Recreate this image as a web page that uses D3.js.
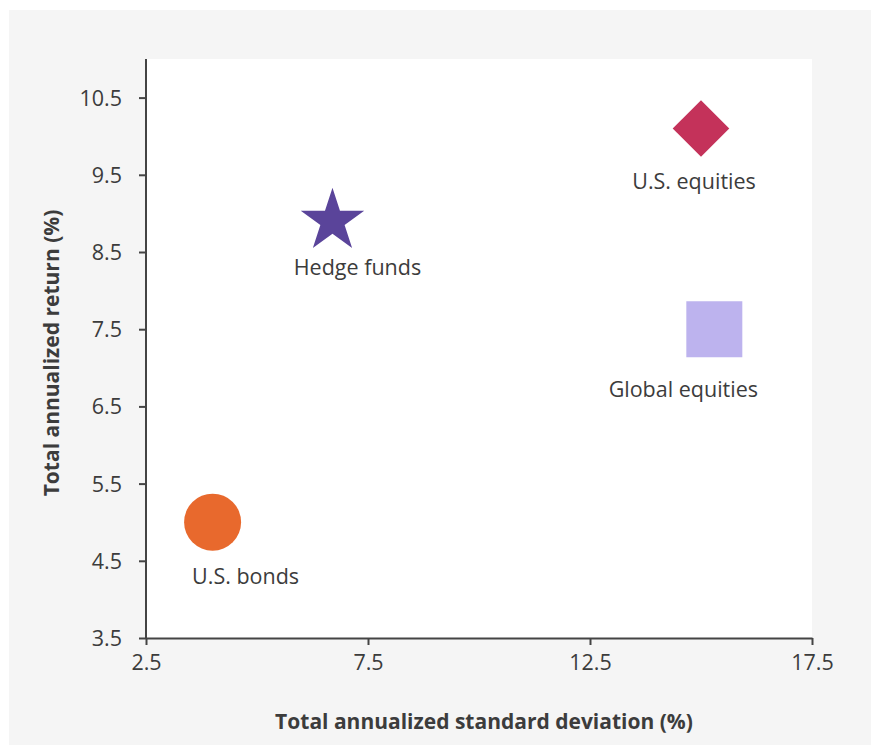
<!DOCTYPE html>
<html><head><meta charset="utf-8">
<script src="https://cdn.jsdelivr.net/npm/d3@7"></script>
<style>
html,body{margin:0;padding:0;background:#fff;}
svg{display:block;}
</style></head>
<body>
<script>
const assets = ["U.S. bonds", "Hedge funds", "U.S. equities", "Global equities"];
const stdDev = [4.0, 6.7, 15.0, 15.3];
const returns = [5.0, 8.9, 10.1, 7.5];
const shapes = ["circle", "star", "diamond", "square"];
const colors = ["#e8692d", "#5a449a", "#c4325a", "#bdb3ee"];
const xTicks = [2.5, 7.5, 12.5, 17.5];
const yTicks = [3.5, 4.5, 5.5, 6.5, 7.5, 8.5, 9.5, 10.5];
const xTitle = "Total annualized standard deviation (%)";
const yTitle = "Total annualized return (%)";

const W = 871, H = 746;
const svg = d3.select("body").append("svg").attr("width", W).attr("height", H);
svg.append("rect").attr("x", 9).attr("y", 10).attr("width", W - 9).attr("height", 735).attr("fill", "#f5f5f5");

const x = d3.scaleLinear().domain([2.5, 17.5]).range([146, 812]);
const y = d3.scaleLinear().domain([3.5, 11]).range([638, 59]);

svg.append("rect").attr("x", x(2.5)).attr("y", y(11)).attr("width", x(17.5) - x(2.5)).attr("height", y(3.5) - y(11)).attr("fill", "#fff");

const font = "'Open Sans', 'Noto Sans', sans-serif";
const axisColor = "#444";

const gx = svg.append("g").attr("transform", `translate(0,${y(3.5)})`)
  .call(d3.axisBottom(x).tickValues(xTicks).tickFormat(d3.format(".1f")).tickSize(7).tickSizeOuter(0));
const gy = svg.append("g").attr("transform", `translate(${x(2.5)},0)`)
  .call(d3.axisLeft(y).tickValues(yTicks).tickFormat(d3.format(".1f")).tickSize(7).tickSizeOuter(0));
[gx, gy].forEach(g => {
  g.select(".domain").attr("stroke", axisColor).attr("stroke-width", 2);
  g.selectAll(".tick line").attr("stroke", axisColor).attr("stroke-width", 2);
  g.selectAll(".tick text").attr("fill", "#3c3c3c").attr("font-family", font).attr("font-size", 21.5);
});
gx.selectAll(".tick text").attr("dy", "1.0em");
gy.selectAll(".tick text").attr("x", -24).attr("dy", "0.35em");
gy.select(".domain").attr("d", `M0,${y(3.5)}V${y(11)}`);

svg.append("text").attr("x", 484).attr("y", 729)
  .attr("text-anchor", "middle").attr("font-family", font).attr("font-weight", "bold")
  .attr("font-size", 21).attr("fill", "#3c3c3c").text(xTitle);
svg.append("text").attr("transform", `translate(59,353) rotate(-90)`)
  .attr("text-anchor", "middle").attr("font-family", font).attr("font-weight", "bold")
  .attr("font-size", 21).attr("fill", "#3c3c3c").text(yTitle);

const sym = {
  circle: d3.symbol().type(d3.symbolCircle).size(Math.PI * 28.5 * 28.5),
  star: d3.symbol().type(d3.symbolStar).size(1250),
  diamond: d3.symbol().type(d3.symbolSquare).size(40 * 40),
  square: d3.symbol().type(d3.symbolSquare).size(56 * 56)
};
const labelOffset = {circle: [33, 62], star: [25, 54], diamond: [-7, 61], square: [-31, 68]};

assets.forEach((name, i) => {
  const cx = x(stdDev[i]), cy = y(returns[i]);
  const s = shapes[i];
  svg.append("path").attr("d", sym[s]())
    .attr("transform", `translate(${cx},${cy})` + (s === "diamond" ? " rotate(45)" : ""))
    .attr("fill", colors[i]);
  svg.append("text").attr("x", cx + labelOffset[s][0]).attr("y", cy + labelOffset[s][1])
    .attr("text-anchor", "middle").attr("font-family", font).attr("font-size", 21.5)
    .attr("fill", "#3c3c3c").text(name);
});
</script>
</body></html>
